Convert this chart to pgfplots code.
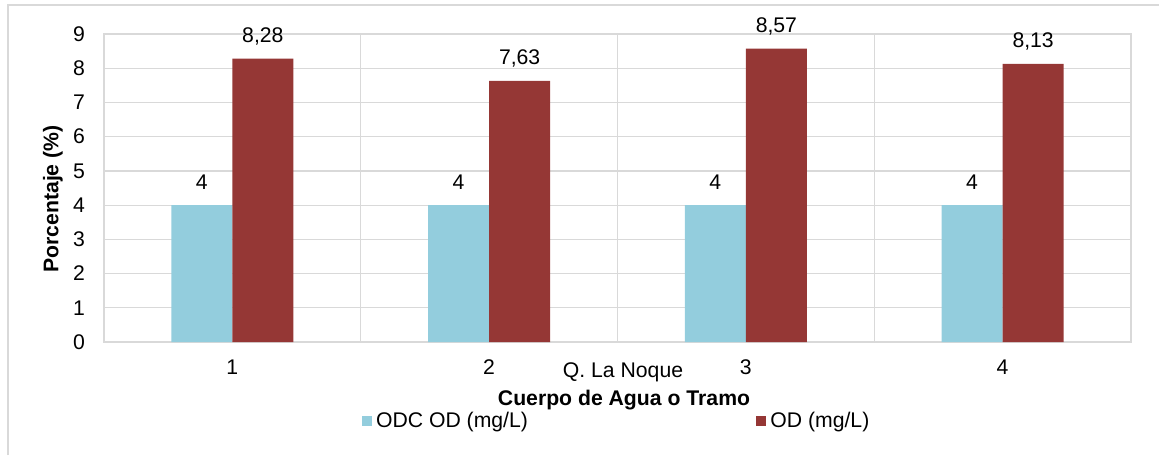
\documentclass[border=0pt]{standalone}
\usepackage{pgfplots}
\pgfplotsset{compat=1.18}
\usepackage{fontspec}
\setmainfont{Liberation Sans}
\definecolor{cblue}{HTML}{93CDDD}
\definecolor{cred}{HTML}{953735}
\definecolor{cgrid}{HTML}{D9D9D9}
\newcommand{\fs}{\fontsize{10.6}{12.7}\selectfont}
\begin{document}
\begin{tikzpicture}
\useasboundingbox (0,0) rectangle (579.5pt,227.5pt);
\draw[cgrid, line width=0.6pt] (4pt,0) -- (4pt,225pt) -- (579.5pt,225pt);
\begin{axis}[
  at={(52pt,56.5pt)}, anchor=south west,
  width=513.5pt, height=154pt, scale only axis,
  ybar=0pt, bar width=30.5pt,
  xmin=0.5, xmax=4.5, ymin=0, ymax=9,
  xtick={1,2,3,4}, xticklabels={1,2,3,4},
  ytick={0,1,...,9},
  minor xtick={1.5,2.5,3.5},
  ymajorgrids, xminorgrids,
  grid style={cgrid, line width=0.6pt},
  minor grid style={cgrid, line width=0.6pt},
  axis line style={cgrid, line width=0.6pt},
  major tick length=0pt, minor tick length=0pt,
  tick label style={font=\fs},
  yticklabel style={xshift=-6pt},
  xticklabel style={yshift=-5.5pt},
  /pgf/number format/assume math mode=true,
  /pgf/number format/use comma,
  nodes near coords,
  nodes near coords style={font=\fs, anchor=base, yshift=8pt, text=black},
  legend columns=2,
  legend style={at={(0.5,-0.2565)}, anchor=center, draw=none, fill=none,
    font=\fs,
    /tikz/every even column/.append style={column sep=112pt},
    inner sep=0pt},
  legend image code/.code={\fill[#1, draw=none] (0pt,-2.6pt) rectangle (5.2pt,2.6pt);},
]
\addplot[fill=cblue, draw=none] coordinates {(1,4) (2,4) (3,4) (4,4)};
\addlegendentry{ODC OD (mg/L)}
\addplot[fill=cred, draw=none] coordinates {(1,8.28) (2,7.63) (3,8.57) (4,8.13)};
\addlegendentry{OD (mg/L)}
\end{axis}
\node[anchor=base, font=\fs] at (311.5pt,39pt) {Q. La Noque};
\node[anchor=base, font=\fs\bfseries] at (312pt,25pt) {Cuerpo de Agua o Tramo};
\node[rotate=90, font=\fs\bfseries] at (26.5pt,128pt) {Porcentaje (\%)};
\end{tikzpicture}
\end{document}
